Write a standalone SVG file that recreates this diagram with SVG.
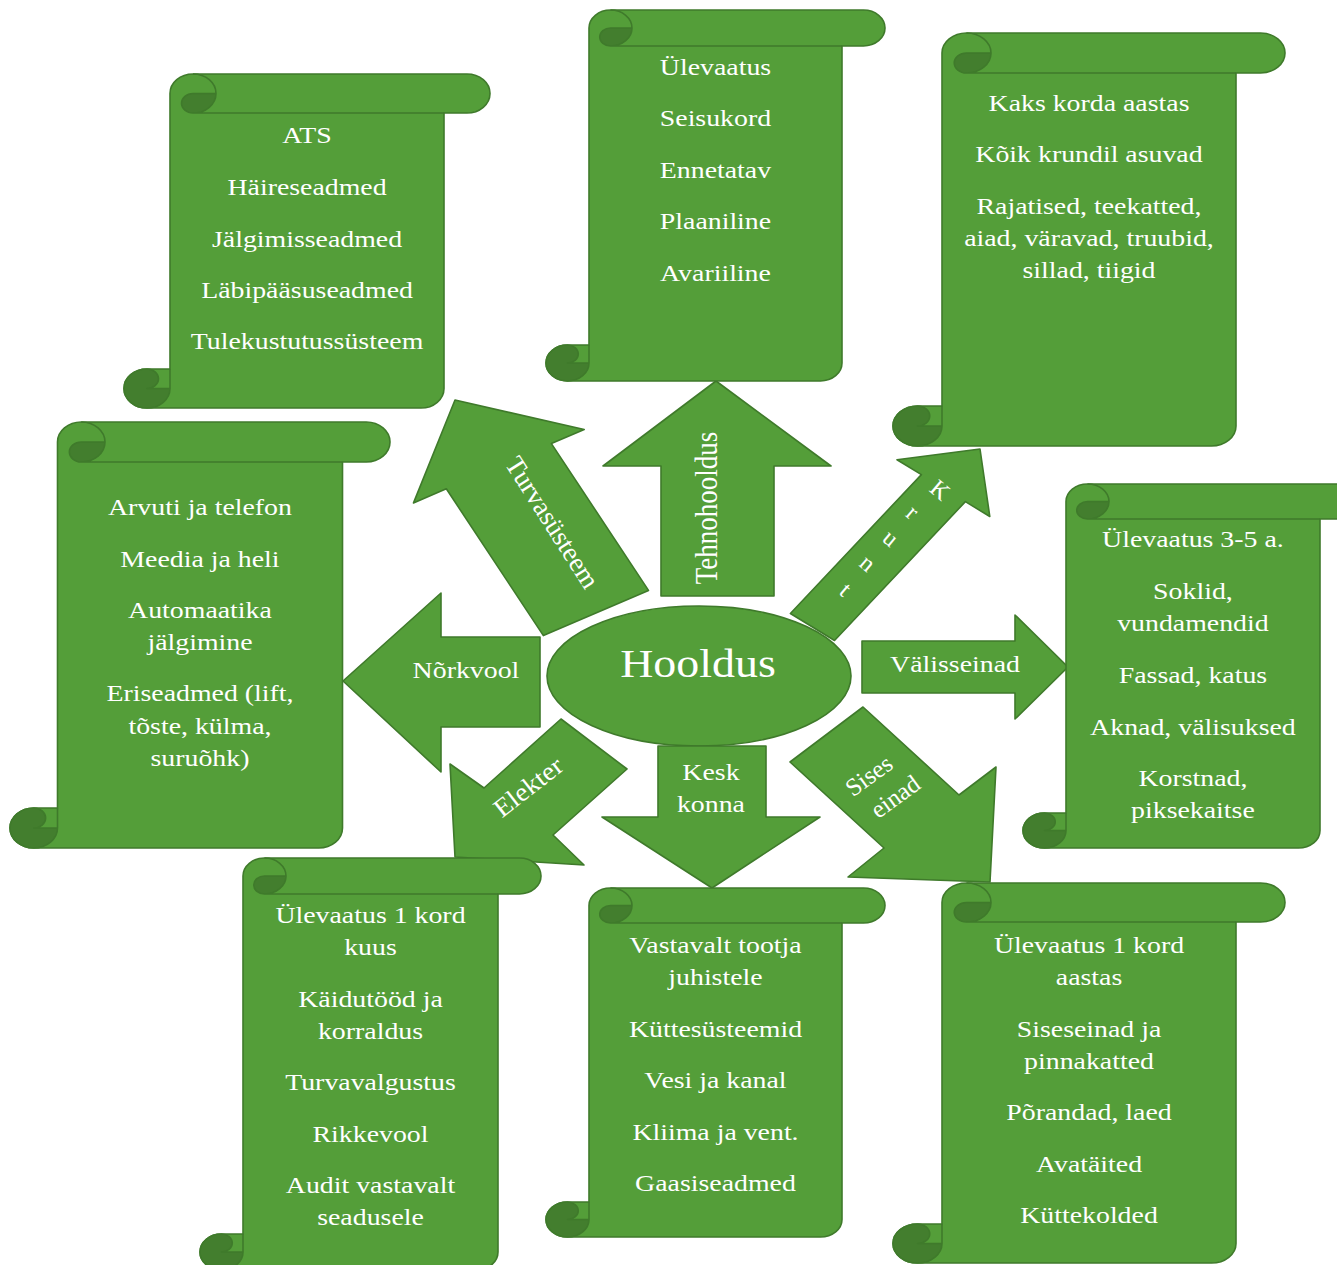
<svg xmlns="http://www.w3.org/2000/svg" width="1337" height="1265" viewBox="0 0 1337 1265">
<style>
.sh{fill:#549E39;stroke:#3F7A2B;stroke-width:1.6;stroke-linejoin:round}
.dk{fill:#437E2E;stroke:none}
.ln{fill:none;stroke:#3F7A2B;stroke-width:1.6;stroke-linejoin:round}
.t{font-family:"Liberation Serif","Times New Roman",serif;font-size:24px;fill:#fff;text-anchor:middle}
</style>
<rect width="1337" height="1265" fill="#fff"/>

<g id="hooldus">
<ellipse class="sh" cx="699" cy="676" rx="152" ry="70"/>
<text class="t" style="font-size:41px" transform="scale(1.12 1)" x="623.2" y="677">Hooldus</text>
</g>

<g id="connectors">
<g id="arrow-tehnohooldus">
<polygon class="sh" points="716,381 831,466 774,466 774,596 661,596 661,466 603,466"/>
<text class="t" style="font-size:27px" transform="translate(710 508) scale(1.16 1) rotate(-90)" x="0" y="6">Tehnohooldus</text>
</g>
<g id="arrow-turvasusteem">
<polygon class="sh" points="543.4,635.6 446.3,488.8 413.5,502.9 455,400 584.2,429.5 551.4,443.6 648.5,590.4"/>
<text class="t" style="font-size:27px" transform="translate(551.5 523) rotate(57.5)" x="0" y="8">Turvasüsteem</text>
</g>
<g id="arrow-krunt">
<polygon class="sh" points="790.4,613.5 921.4,474.6 897,459.7 980,449 989.8,516.5 965.4,501.6 834.5,640.5"/>
<text class="t" style="text-anchor:start" x="928.2 904.5 880.9 857.9 837.9" y="490.6 515.6 540.3 565.3 593.2" rotate="40 40 40 40 40">Krunt</text>
</g>
<g id="arrow-norkvool">
<polygon class="sh" points="343,681 441,593 441,637 540,637 540,727 441,727 441,772"/>
<text class="t" transform="scale(1.16 1)" x="401.7" y="678">Nõrkvool</text>
</g>
<g id="arrow-valisseinad">
<polygon class="sh" points="862,641 1015,641 1015,615 1068,667 1015,719 1015,693 862,693"/>
<text class="t" transform="scale(1.16 1)" x="823.3" y="672">Välisseinad</text>
</g>
<g id="arrow-keskkonna">
<polygon class="sh" points="658,746 766,746 766,817 820,817 712,888 602,817 658,817"/>
<g transform="scale(1.16 1)">
<text class="t" x="612.9" y="780">Kesk</text>
<text class="t" x="612.9" y="812">konna</text>
</g>
</g>
<g id="arrow-elekter">
<polygon class="sh" points="561,719 627,769 553,835 584,865 455,857 450,764 484,788"/>
<text class="t" style="font-size:26px" transform="translate(528.5 787.5) rotate(-38)" x="0" y="8" textLength="80" lengthAdjust="spacingAndGlyphs">Elekter</text>
</g>
<g id="arrow-siseseinad">
<polygon class="sh" points="790,762 863,707 959,795 996,767 990,882 848,877 884,848"/>
<g transform="translate(882.5 786.5) rotate(-36)">
<text class="t" style="font-size:25px" x="-4.5" y="-8.5">Sises</text>
<text class="t" style="font-size:25px" x="4.5" y="24">einad</text>
</g>
</g>
</g>

<g id="scroll-turvasusteem">
<path class="sh" d="M147,408 A23,19.5 0 0 1 124,388.5 A23,19.5 0 0 1 147,369 L170,369 L170,93.5 A23,19.5 0 0 1 193,74 L467,74 A23,19.5 0 0 1 467,113 L444,113 L444,388.5 A23,19.5 0 0 1 421,408 Z"/>
<path class="dk" d="M216,93.5 A23,19.5 0 0 1 193,113 A11.5,9.75 0 0 1 193,93.5 Z M170,388.5 A23,19.5 0 1 1 147,369 A11.5,9.75 0 0 1 147,388.5 Z"/>
<path class="ln" d="M193,74 A23,19.5 0 0 1 193,113 A11.5,9.75 0 0 1 193,93.5 L216,93.5 M444,113 L193,113 M147,369 A11.5,9.75 0 0 1 147,388.5 L170,388.5 M147,408 A23,19.5 0 0 0 170,388.5 L170,369 M170,388.5 A23,19.5 0 1 1 147,369"/>
<g transform="scale(1.16 1)">
<text class="t" x="264.7" y="143">ATS</text>
<text class="t" x="264.7" y="195">Häireseadmed</text>
<text class="t" x="264.7" y="247">Jälgimisseadmed</text>
<text class="t" x="264.7" y="298">Läbipääsuseadmed</text>
<text class="t" x="264.7" y="349">Tulekustutussüsteem</text>
</g>
</g>

<g id="scroll-tehnohooldus">
<path class="sh" d="M567.5,381 A21.5,18 0 0 1 546,363 A21.5,18 0 0 1 567.5,345 L589,345 L589,28 A21.5,18 0 0 1 610.5,10 L863.5,10 A21.5,18 0 0 1 863.5,46 L842,46 L842,363 A21.5,18 0 0 1 820.5,381 Z"/>
<path class="dk" d="M632,28 A21.5,18 0 0 1 610.5,46 A10.75,9 0 0 1 610.5,28 Z M589,363 A21.5,18 0 1 1 567.5,345 A10.75,9 0 0 1 567.5,363 Z"/>
<path class="ln" d="M610.5,10 A21.5,18 0 0 1 610.5,46 A10.75,9 0 0 1 610.5,28 L632,28 M842,46 L610.5,46 M567.5,345 A10.75,9 0 0 1 567.5,363 L589,363 M567.5,381 A21.5,18 0 0 0 589,363 L589,345 M589,363 A21.5,18 0 1 1 567.5,345"/>
<g transform="scale(1.16 1)">
<text class="t" x="616.8" y="75">Ülevaatus</text>
<text class="t" x="616.8" y="126">Seisukord</text>
<text class="t" x="616.8" y="178">Ennetatav</text>
<text class="t" x="616.8" y="229">Plaaniline</text>
<text class="t" x="616.8" y="281">Avariiline</text>
</g>
</g>

<g id="scroll-krunt">
<path class="sh" d="M917.5,446 A24.5,20 0 0 1 893,426 A24.5,20 0 0 1 917.5,406 L942,406 L942,53 A24.5,20 0 0 1 966.5,33 L1260.5,33 A24.5,20 0 0 1 1260.5,73 L1236,73 L1236,426 A24.5,20 0 0 1 1211.5,446 Z"/>
<path class="dk" d="M991,53 A24.5,20 0 0 1 966.5,73 A12.25,10 0 0 1 966.5,53 Z M942,426 A24.5,20 0 1 1 917.5,406 A12.25,10 0 0 1 917.5,426 Z"/>
<path class="ln" d="M966.5,33 A24.5,20 0 0 1 966.5,73 A12.25,10 0 0 1 966.5,53 L991,53 M1236,73 L966.5,73 M917.5,406 A12.25,10 0 0 1 917.5,426 L942,426 M917.5,446 A24.5,20 0 0 0 942,426 L942,406 M942,426 A24.5,20 0 1 1 917.5,406"/>
<g transform="scale(1.16 1)">
<text class="t" x="938.8" y="111">Kaks korda aastas</text>
<text class="t" x="938.8" y="162">Kõik krundil asuvad</text>
<text class="t" x="938.8" y="214">Rajatised, teekatted,</text>
<text class="t" x="938.8" y="246">aiad, väravad, truubid,</text>
<text class="t" x="938.8" y="278">sillad, tiigid</text>
</g>
</g>

<g id="scroll-norkvool">
<path class="sh" d="M33.75,848 A23.75,20 0 0 1 10,828 A23.75,20 0 0 1 33.75,808 L57.5,808 L57.5,442 A23.75,20 0 0 1 81.25,422 L366.25,422 A23.75,20 0 0 1 366.25,462 L342.5,462 L342.5,828 A23.75,20 0 0 1 318.75,848 Z"/>
<path class="dk" d="M105,442 A23.75,20 0 0 1 81.25,462 A11.875,10 0 0 1 81.25,442 Z M57.5,828 A23.75,20 0 1 1 33.75,808 A11.875,10 0 0 1 33.75,828 Z"/>
<path class="ln" d="M81.25,422 A23.75,20 0 0 1 81.25,462 A11.875,10 0 0 1 81.25,442 L105,442 M342.5,462 L81.25,462 M33.75,808 A11.875,10 0 0 1 33.75,828 L57.5,828 M33.75,848 A23.75,20 0 0 0 57.5,828 L57.5,808 M57.5,828 A23.75,20 0 1 1 33.75,808"/>
<g transform="scale(1.16 1)">
<text class="t" x="172.4" y="515">Arvuti ja telefon</text>
<text class="t" x="172.4" y="567">Meedia ja heli</text>
<text class="t" x="172.4" y="618">Automaatika</text>
<text class="t" x="172.4" y="650">jälgimine</text>
<text class="t" x="172.4" y="701">Eriseadmed (lift,</text>
<text class="t" x="172.4" y="734">tõste, külma,</text>
<text class="t" x="172.4" y="766">suruõhk)</text>
</g>
</g>

<g id="scroll-valisseinad">
<path class="sh" d="M1044.5,848 A21.5,17.5 0 0 1 1023,830.5 A21.5,17.5 0 0 1 1044.5,813 L1066,813 L1066,501.5 A21.5,17.5 0 0 1 1087.5,484 L1341.5,484 A21.5,17.5 0 0 1 1341.5,519 L1320,519 L1320,830.5 A21.5,17.5 0 0 1 1298.5,848 Z"/>
<path class="dk" d="M1109,501.5 A21.5,17.5 0 0 1 1087.5,519 A10.75,8.75 0 0 1 1087.5,501.5 Z M1066,830.5 A21.5,17.5 0 1 1 1044.5,813 A10.75,8.75 0 0 1 1044.5,830.5 Z"/>
<path class="ln" d="M1087.5,484 A21.5,17.5 0 0 1 1087.5,519 A10.75,8.75 0 0 1 1087.5,501.5 L1109,501.5 M1320,519 L1087.5,519 M1044.5,813 A10.75,8.75 0 0 1 1044.5,830.5 L1066,830.5 M1044.5,848 A21.5,17.5 0 0 0 1066,830.5 L1066,813 M1066,830.5 A21.5,17.5 0 1 1 1044.5,813"/>
<g transform="scale(1.16 1)">
<text class="t" x="1028.4" y="547">Ülevaatus 3-5 a.</text>
<text class="t" x="1028.4" y="599">Soklid,</text>
<text class="t" x="1028.4" y="631">vundamendid</text>
<text class="t" x="1028.4" y="683">Fassad, katus</text>
<text class="t" x="1028.4" y="735">Aknad, välisuksed</text>
<text class="t" x="1028.4" y="786">Korstnad,</text>
<text class="t" x="1028.4" y="818">piksekaitse</text>
</g>
</g>

<g id="scroll-elekter">
<path class="sh" d="M221.5,1270 A21.5,18 0 0 1 200,1252 A21.5,18 0 0 1 221.5,1234 L243,1234 L243,876 A21.5,18 0 0 1 264.5,858 L519.5,858 A21.5,18 0 0 1 519.5,894 L498,894 L498,1252 A21.5,18 0 0 1 476.5,1270 Z"/>
<path class="dk" d="M286,876 A21.5,18 0 0 1 264.5,894 A10.75,9 0 0 1 264.5,876 Z M243,1252 A21.5,18 0 1 1 221.5,1234 A10.75,9 0 0 1 221.5,1252 Z"/>
<path class="ln" d="M264.5,858 A21.5,18 0 0 1 264.5,894 A10.75,9 0 0 1 264.5,876 L286,876 M498,894 L264.5,894 M221.5,1234 A10.75,9 0 0 1 221.5,1252 L243,1252 M221.5,1270 A21.5,18 0 0 0 243,1252 L243,1234 M243,1252 A21.5,18 0 1 1 221.5,1234"/>
<g transform="scale(1.16 1)">
<text class="t" x="319.4" y="923">Ülevaatus 1 kord</text>
<text class="t" x="319.4" y="955">kuus</text>
<text class="t" x="319.4" y="1007">Käidutööd ja</text>
<text class="t" x="319.4" y="1039">korraldus</text>
<text class="t" x="319.4" y="1090">Turvavalgustus</text>
<text class="t" x="319.4" y="1142">Rikkevool</text>
<text class="t" x="319.4" y="1193">Audit vastavalt</text>
<text class="t" x="319.4" y="1225">seadusele</text>
</g>
</g>

<g id="scroll-keskkonna">
<path class="sh" d="M567.5,1237 A21.5,17.5 0 0 1 546,1219.5 A21.5,17.5 0 0 1 567.5,1202 L589,1202 L589,905.5 A21.5,17.5 0 0 1 610.5,888 L863.5,888 A21.5,17.5 0 0 1 863.5,923 L842,923 L842,1219.5 A21.5,17.5 0 0 1 820.5,1237 Z"/>
<path class="dk" d="M632,905.5 A21.5,17.5 0 0 1 610.5,923 A10.75,8.75 0 0 1 610.5,905.5 Z M589,1219.5 A21.5,17.5 0 1 1 567.5,1202 A10.75,8.75 0 0 1 567.5,1219.5 Z"/>
<path class="ln" d="M610.5,888 A21.5,17.5 0 0 1 610.5,923 A10.75,8.75 0 0 1 610.5,905.5 L632,905.5 M842,923 L610.5,923 M567.5,1202 A10.75,8.75 0 0 1 567.5,1219.5 L589,1219.5 M567.5,1237 A21.5,17.5 0 0 0 589,1219.5 L589,1202 M589,1219.5 A21.5,17.5 0 1 1 567.5,1202"/>
<g transform="scale(1.16 1)">
<text class="t" x="616.8" y="953">Vastavalt tootja</text>
<text class="t" x="616.8" y="985">juhistele</text>
<text class="t" x="616.8" y="1037">Küttesüsteemid</text>
<text class="t" x="616.8" y="1088">Vesi ja kanal</text>
<text class="t" x="616.8" y="1140">Kliima ja vent.</text>
<text class="t" x="616.8" y="1191">Gaasiseadmed</text>
</g>
</g>

<g id="scroll-siseseinad">
<path class="sh" d="M917.5,1263 A24.5,19.5 0 0 1 893,1243.5 A24.5,19.5 0 0 1 917.5,1224 L942,1224 L942,902.5 A24.5,19.5 0 0 1 966.5,883 L1260.5,883 A24.5,19.5 0 0 1 1260.5,922 L1236,922 L1236,1243.5 A24.5,19.5 0 0 1 1211.5,1263 Z"/>
<path class="dk" d="M991,902.5 A24.5,19.5 0 0 1 966.5,922 A12.25,9.75 0 0 1 966.5,902.5 Z M942,1243.5 A24.5,19.5 0 1 1 917.5,1224 A12.25,9.75 0 0 1 917.5,1243.5 Z"/>
<path class="ln" d="M966.5,883 A24.5,19.5 0 0 1 966.5,922 A12.25,9.75 0 0 1 966.5,902.5 L991,902.5 M1236,922 L966.5,922 M917.5,1224 A12.25,9.75 0 0 1 917.5,1243.5 L942,1243.5 M917.5,1263 A24.5,19.5 0 0 0 942,1243.5 L942,1224 M942,1243.5 A24.5,19.5 0 1 1 917.5,1224"/>
<g transform="scale(1.16 1)">
<text class="t" x="938.8" y="953">Ülevaatus 1 kord</text>
<text class="t" x="938.8" y="985">aastas</text>
<text class="t" x="938.8" y="1037">Siseseinad ja</text>
<text class="t" x="938.8" y="1069">pinnakatted</text>
<text class="t" x="938.8" y="1120">Põrandad, laed</text>
<text class="t" x="938.8" y="1172">Avatäited</text>
<text class="t" x="938.8" y="1223">Küttekolded</text>
</g>
</g>
</svg>
